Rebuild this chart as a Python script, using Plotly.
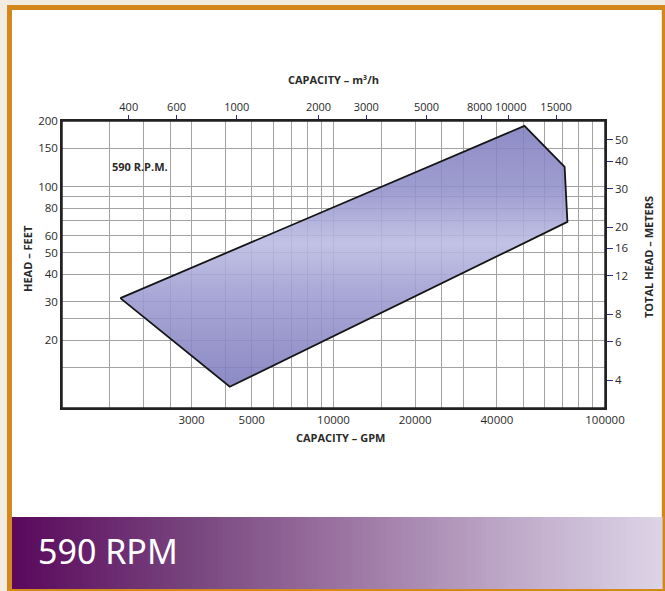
import math
import plotly.graph_objects as go

# ---------------- data ----------------
GPM_PER_M3H = 4.403
FT_PER_M = 3.281

# operating envelope (capacity GPM, head ft)
env_gpm = [1640, 50500, 71000, 72700, 4150, 1640]
env_ft = [31.1, 190, 123.4, 69.3, 12.25, 31.1]

x_ticks_gpm = [3000, 5000, 10000, 20000, 40000, 100000]
x_ticks_m3h = [400, 600, 1000, 2000, 3000, 5000, 8000, 10000, 15000]
crowded_m3h = [8000, 10000]          # labelled separately, nudged apart
y_ticks_ft = [20, 30, 40, 50, 60, 80, 100, 150, 200]
y_ticks_m = [4, 6, 8, 12, 16, 20, 30, 40, 50]
x_grid_gpm = [1500, 2000, 2500, 3000, 4000, 5000, 6000, 7000, 8000, 9000,
              10000, 15000, 20000, 25000, 30000, 40000, 50000, 60000, 70000, 80000, 90000]
y_grid_ft = [15, 20, 25, 30, 40, 50, 60, 70, 80, 90, 100, 150]

X_MIN, X_MAX = 1000, 100000
Y_MIN, Y_MAX = 9.8, 200

# ---------------- layout geometry ----------------
W, H = 665, 591
ML, MR, MT, MB = 62, 60, 121, 183
PW, PH = W - ML - MR, H - MT - MB


def px(x):
    return (x - ML) / PW


def py(y):
    return (H - MB - y) / PH


FONT = "Open Sans"
TXT = "#2a2a2a"
TICKBLUE = "#2e2e8a"

fig = go.Figure()

# envelope
fig.add_trace(go.Scatter(
    x=env_gpm, y=env_ft, mode="lines", fill="toself",
    line=dict(color="#151515", width=1.8),
    fillgradient=dict(
        type="vertical",
        colorscale=[[0.0, "rgba(124,122,188,0.88)"],
                    [0.35, "rgba(156,155,208,0.88)"],
                    [0.55, "rgba(186,186,226,0.88)"],
                    [0.75, "rgba(146,145,202,0.88)"],
                    [1.0, "rgba(126,124,190,0.88)"]],
    ),
    hoverinfo="skip", showlegend=False, xaxis="x", yaxis="y",
))
# invisible traces to activate secondary axes
fig.add_trace(go.Scatter(
    x=[g / GPM_PER_M3H for g in env_gpm], y=[f / FT_PER_M for f in env_ft],
    mode="none", hoverinfo="skip", showlegend=False, xaxis="x2", yaxis="y2"))
fig.add_trace(go.Scatter(
    x=env_gpm, y=env_ft, mode="none", hoverinfo="skip", showlegend=False,
    xaxis="x3", yaxis="y3"))

tickfont = dict(family=FONT, size=11.5, color=TXT)
topfont = dict(family=FONT, size=11, color=TXT)

fig.update_layout(
    width=W, height=H,
    margin=dict(l=ML, r=MR, t=MT, b=MB, pad=0),
    paper_bgcolor="#f1ebe0",
    plot_bgcolor="rgba(0,0,0,0)",
    xaxis=dict(type="log", range=[math.log10(X_MIN), math.log10(X_MAX)],
               tickmode="array", tickvals=x_ticks_gpm,
               ticktext=[str(v) for v in x_ticks_gpm], tickangle=0,
               showgrid=False, zeroline=False, ticks="",
               showline=True, linecolor="#222222", linewidth=1.5,
               tickfont=tickfont),
    xaxis2=dict(type="log", overlaying="x", side="top", anchor="y",
                range=[math.log10(X_MIN / GPM_PER_M3H), math.log10(X_MAX / GPM_PER_M3H)],
                tickmode="array", tickvals=x_ticks_m3h,
                ticktext=["" if v in crowded_m3h else str(v) for v in x_ticks_m3h],
                tickangle=0,
                showgrid=False, zeroline=False, ticks="outside", ticklen=4,
                tickwidth=1.2, tickcolor=TICKBLUE,
                showline=True, linecolor="#222222", linewidth=1.5,
                tickfont=topfont),
    xaxis3=dict(type="log", overlaying="x", anchor="y",
                range=[math.log10(X_MIN), math.log10(X_MAX)],
                tickmode="array", tickvals=x_grid_gpm,
                showgrid=True, gridcolor="#a3a3a3", gridwidth=1.4,
                showticklabels=False, ticks="", zeroline=False, showline=False),
    yaxis=dict(type="log", range=[math.log10(Y_MIN), math.log10(Y_MAX)],
               tickmode="array", tickvals=y_ticks_ft,
               ticktext=[str(v) for v in y_ticks_ft],
               showgrid=False, zeroline=False, ticks="",
               showline=True, linecolor="#222222", linewidth=1.5,
               tickfont=tickfont),
    yaxis2=dict(type="log", overlaying="y", side="right", anchor="x",
                range=[math.log10(Y_MIN / FT_PER_M), math.log10(Y_MAX / FT_PER_M)],
                tickmode="array", tickvals=y_ticks_m,
                ticktext=[str(v) for v in y_ticks_m],
                showgrid=False, zeroline=False, ticks="outside", ticklen=6,
                tickwidth=1.4, tickcolor=TICKBLUE,
                showline=True, linecolor="#222222", linewidth=1.5,
                tickfont=tickfont),
    yaxis3=dict(type="log", overlaying="y", anchor="x",
                range=[math.log10(Y_MIN), math.log10(Y_MAX)],
                tickmode="array", tickvals=y_grid_ft,
                showgrid=True, gridcolor="#a3a3a3", gridwidth=1.4,
                showticklabels=False, ticks="", zeroline=False, showline=False),
)

shapes = []
# orange frame and white card
shapes.append(dict(type="rect", xref="paper", yref="paper",
                   x0=px(7), x1=px(665), y0=py(591), y1=py(5),
                   fillcolor="#d4881c", line=dict(width=0), layer="below"))
shapes.append(dict(type="rect", xref="paper", yref="paper",
                   x0=px(12), x1=px(662), y0=py(589), y1=py(10),
                   fillcolor="#fbe7c4", line=dict(width=0), layer="below"))
shapes.append(dict(type="rect", xref="paper", yref="paper",
                   x0=px(12), x1=px(661), y0=py(589), y1=py(10),
                   fillcolor="#ffffff", line=dict(width=0), layer="below"))

# banner gradient
stops = [(12, (90, 8, 92)), (200, (122, 72, 128)), (330, (152, 112, 158)),
         (500, (188, 166, 198)), (662, (221, 212, 230))]


def banner_col(x):
    for (xa, ca), (xb, cb) in zip(stops[:-1], stops[1:]):
        if x <= xb:
            t = (x - xa) / (xb - xa)
            return "rgb(%d,%d,%d)" % tuple(round(a + (b - a) * t) for a, b in zip(ca, cb))
    return "rgb(%d,%d,%d)" % stops[-1][1]


step = 5
x = 12
while x < 662:
    x2 = min(x + step, 662)
    shapes.append(dict(type="rect", xref="paper", yref="paper",
                       x0=px(x), x1=px(x2 + 0.6), y0=py(589), y1=py(517),
                       fillcolor=banner_col((x + x2) / 2), line=dict(width=0),
                       layer="below"))
    x = x2
# plot frame
shapes.append(dict(type="rect", xref="paper", yref="paper", x0=0, x1=1, y0=0, y1=1,
                   line=dict(color="#222222", width=1.5), layer="above"))
fig.update_layout(shapes=shapes)

bold = dict(family=FONT, size=11, color=TXT)
ann = [
    dict(text="<b>CAPACITY – m³/h</b>", x=px(333), y=py(79), font=bold),
    dict(text="<b>CAPACITY – GPM</b>", x=px(340), y=py(437), font=bold),
    dict(text="<b>HEAD – FEET</b>", x=px(27), y=py(259), textangle=-90, font=bold),
    dict(text="<b>TOTAL HEAD – METERS</b>", x=px(648), y=py(257), textangle=-90, font=bold),
    dict(text="<b>590 R.P.M.</b>", x=px(110), y=py(166), xanchor="left",
         font=dict(family=FONT, size=11, color=TXT)),
    dict(text="590 RPM", x=px(36), y=py(551), xanchor="left",
         font=dict(family="Noto Sans", size=34, color="#ffffff")),
]
for a in ann:
    a.setdefault("xanchor", "center")
    a.update(xref="paper", yref="paper", yanchor="middle", showarrow=False)

# crowded top-axis labels, nudged apart so they do not touch
for v, shift in zip(crowded_m3h, [-2.5, 2.5]):
    ann.append(dict(text=str(v), x=math.log10(v), xref="x2", y=py(106), yref="paper",
                    xanchor="center", yanchor="middle", xshift=shift,
                    showarrow=False, borderpad=0, font=topfont))
fig.update_layout(annotations=ann)

fig.write_html(
    "out.html",
    config={"displayModeBar": False},
    post_script="document.body.style.margin='0';document.body.style.overflow='hidden';",
)
